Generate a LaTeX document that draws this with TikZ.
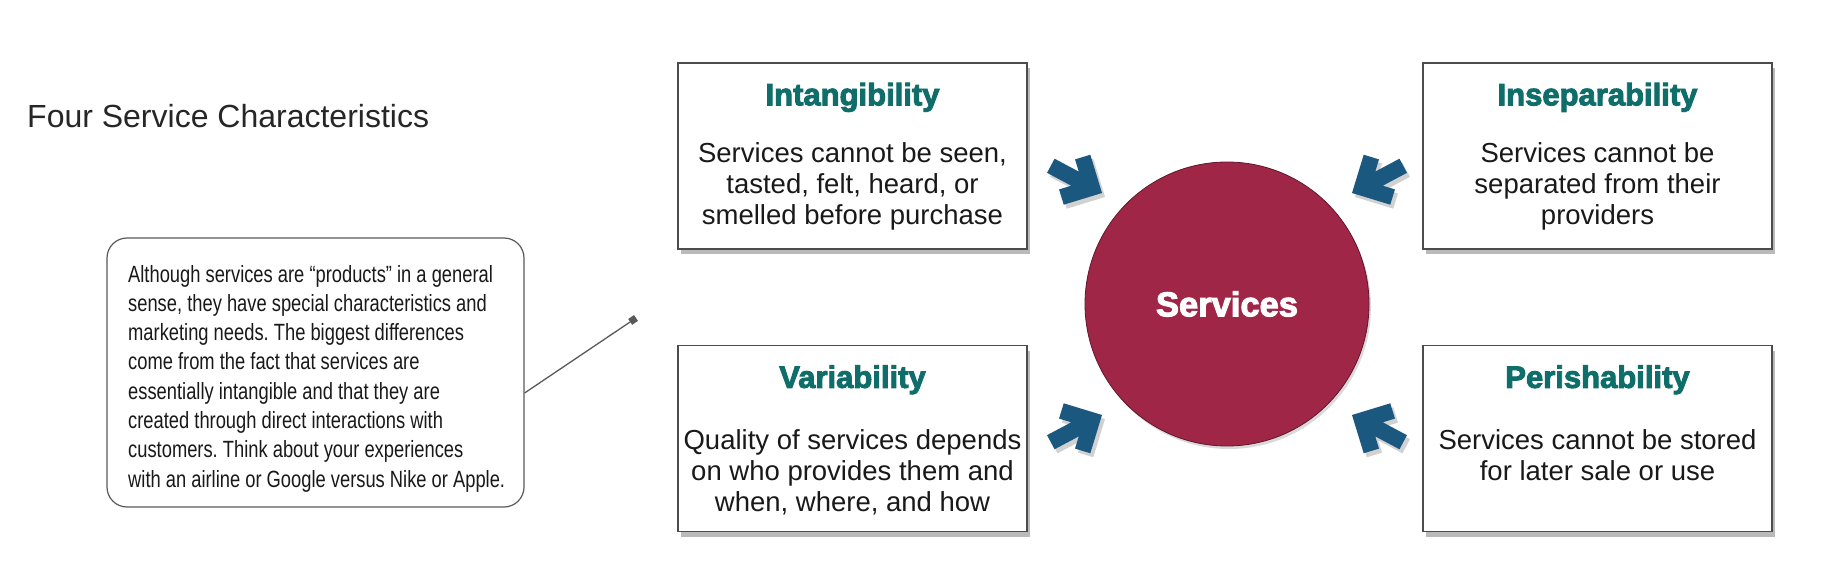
\documentclass[tikz,border=0pt]{standalone}
\usepackage{fontspec}
\setmainfont{Liberation Sans}
\newfontfamily\narrowfont[FakeStretch=0.78]{Liberation Sans}
\newfontfamily\heavyfont[FakeBold=3]{Liberation Sans Bold}
\usetikzlibrary{shadows,arrows.meta,calc}
\definecolor{tealtitle}{RGB}{15,110,106}
\definecolor{crim}{RGB}{160,38,72}
\definecolor{arrowblue}{RGB}{27,88,128}
\definecolor{txt}{RGB}{25,25,25}
\frenchspacing
\newcommand{\mlines}[1]{\begin{tabular}[t]{@{}c@{}}#1\end{tabular}}
\newcommand{\mlinesl}[1]{\begin{tabular}[t]{@{}l@{}}#1\end{tabular}}
\tikzset{
  charbox/.style={draw=black!70, line width=1.3pt, fill=white, minimum width=349pt,
    minimum height=186pt, inner sep=0pt,
    drop shadow={shadow xshift=3pt, shadow yshift=-5pt, opacity=0.45, fill=black!60}},
  ttl/.style={font=\heavyfont\fontsize{31pt}{36pt}\selectfont, text=tealtitle, inner sep=0pt, anchor=base},
  bodytxt/.style={font=\fontsize{27.5pt}{31pt}\selectfont, text=txt, inner sep=0pt, anchor=base},
  callbox/.style={draw=black!65, line width=1.2pt, rounded corners=20pt, fill=white,
    minimum width=417pt, minimum height=269pt, inner sep=0pt},
  calltxt/.style={font=\narrowfont\fontsize{23.5pt}{29.3pt}\selectfont, text=txt, inner sep=0pt, anchor=base west},
  pinline/.style={draw=black!65, line width=1.3pt, -{Square[length=7pt,width=7pt]}},
  chev/.style={fill=arrowblue},
  chevshadow/.style={fill=black, opacity=0.18},
  svcircle/.style={circle, minimum size=284pt, inner sep=0pt, fill=crim, draw=crim!60!black, line width=0.8pt,
    drop shadow={shadow xshift=2pt, shadow yshift=-3pt, opacity=0.3, fill=black!50},
    font=\heavyfont\fontsize{34.5pt}{40pt}\selectfont, text=white}
}
\begin{document}
\begin{tikzpicture}[x=1pt,y=-1pt]
\useasboundingbox (0,0) rectangle (1823,583);

\node[font=\fontsize{32pt}{38pt}\selectfont, text=black!85, anchor=base west, inner sep=0pt] (title) at (27,128) {Four Service Characteristics};

% callout
\node[callbox] (callout) at (315.5,372.5) {};
\node[calltxt] (calltext) at (128,282) {\mlinesl{Although services are “products” in a general\\
sense, they have special characteristics and\\
marketing needs. The biggest differences\\
come from the fact that services are\\
essentially intangible and that they are\\
created through direct interactions with\\
customers. Think about your experiences\\
with an airline or Google versus Nike or Apple.}};
\coordinate (pin) at (636,318);
\draw[pinline] ([yshift=-20.5pt]callout.east) -- (pin);

% boxes
\node[charbox] (b1) at (852.5,156) {};
\node[charbox] (b2) at (1597.5,156) {};
\node[charbox] (b3) at (852.5,438.5) {};
\node[charbox] (b4) at (1597.5,438.5) {};

\node[ttl] (t1) at ([yshift=-43pt]b1.north) {Intangibility};
\node[ttl] (t2) at ([yshift=-43pt]b2.north) {Inseparability};
\node[ttl] (t3) at ([yshift=-43pt]b3.north) {Variability};
\node[ttl] (t4) at ([yshift=-43pt]b4.north) {Perishability};

\node[bodytxt] (d1) at ([yshift=-100.5pt]b1.north) {\mlines{Services cannot be seen,\\tasted, felt, heard, or\\smelled before purchase}};
\node[bodytxt] (d2) at ([yshift=-100.5pt]b2.north) {\mlines{Services cannot be\\separated from their\\providers}};
\node[bodytxt] (d3) at ([yshift=-104.5pt]b3.north) {\mlines{Quality of services depends\\on who provides them and\\when, where, and how}};
\node[bodytxt] (d4) at ([yshift=-104.5pt]b4.north) {\mlines{Services cannot be stored\\for later sale or use}};

% central circle
\node[svcircle] (svc) at (1227,304) {Services};

% arrows
\foreach \px/\py/\ang in {1102/193/-28, 1102/415/28, 1352/193/208, 1352/415/152} {
  \begin{scope}[shift={(\px+3,\py+4)}, rotate=\ang]
    \fill[chevshadow] (0,0) -- (-28.3,28.3) -- (-39.6,17) -- (-30.6,8) -- (-58,8)
      -- (-58,-8) -- (-30.6,-8) -- (-39.6,-17) -- (-28.3,-28.3) -- cycle;
  \end{scope}
  \begin{scope}[shift={(\px,\py)}, rotate=\ang]
    \fill[chev] (0,0) -- (-28.3,28.3) -- (-39.6,17) -- (-30.6,8) -- (-58,8)
      -- (-58,-8) -- (-30.6,-8) -- (-39.6,-17) -- (-28.3,-28.3) -- cycle;
  \end{scope}
}
\end{tikzpicture}
\end{document}
